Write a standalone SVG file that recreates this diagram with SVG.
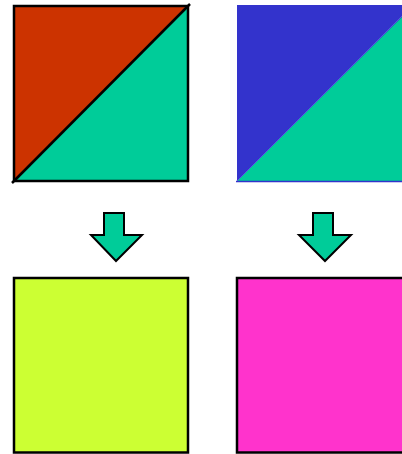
<svg xmlns="http://www.w3.org/2000/svg" width="402" height="454" viewBox="0 0 402 454">
<style>
.k{stroke:#000;stroke-width:2.5;stroke-linejoin:miter}
.arrow{fill:#00CC99;stroke:#000;stroke-width:2}
</style>
<rect width="402" height="454" fill="#fff"/>
<g id="square1">
<rect x="14" y="6" width="174" height="175" fill="#00CC99"/>
<polygon points="14,6 188,6 14,181" fill="#CC3300"/>
<rect x="14" y="6" width="174" height="175" fill="none" class="k"/>
<line x1="12" y1="183" x2="190" y2="4" class="k" stroke-width="3"/>
</g>
<g id="square2">
<rect x="237" y="5" width="170" height="176" fill="#00CC99"/>
<polygon points="237,5 407,5 407,12 237,181" fill="#3333CC"/>
<line x1="236" y1="181.5" x2="402" y2="181.5" stroke="#3333CC" stroke-width="1.5"/>
<line x1="237" y1="181" x2="402" y2="16" stroke="#5555DD" stroke-width="1"/>
</g>
<g id="connectors">
<polygon class="arrow" points="104,213 124,213 124,235 142,235 116,261 91,235 104,235"/>
<polygon class="arrow" points="313,213 333,213 333,235 351,235 325,261 299,235 313,235"/>
</g>
<g id="square3">
<rect x="14" y="278" width="174" height="174.5" fill="#CCFF33" class="k"/>
</g>
<g id="square4">
<rect x="237" y="278" width="170" height="174.5" fill="#FF33CC" class="k"/>
</g>
</svg>
